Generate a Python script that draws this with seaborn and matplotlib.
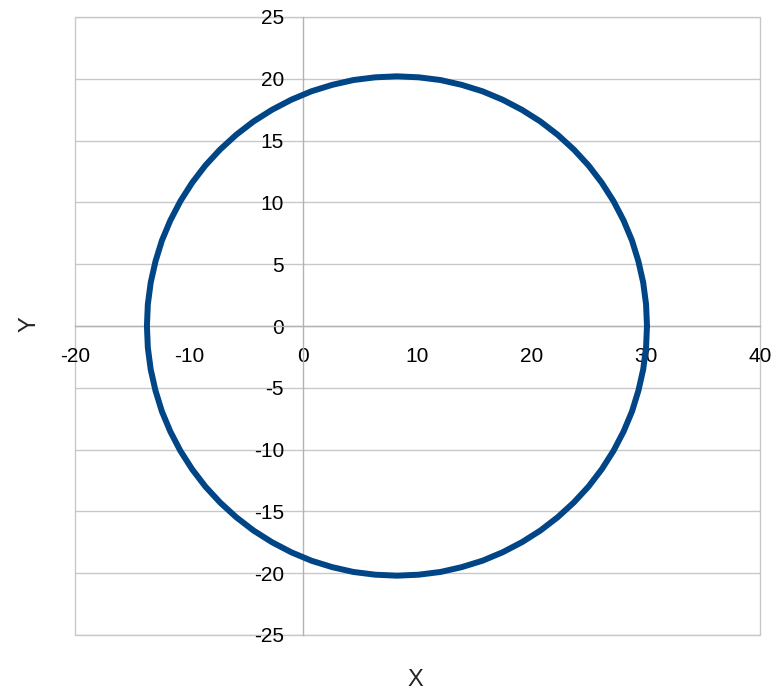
import matplotlib
matplotlib.use("Agg")
import matplotlib.pyplot as plt
from matplotlib.patches import Rectangle
import seaborn as sns
import pandas as pd

# Points (upper half, then lower half), closing the loop
x_vals = [30.1, 30.02, 29.77, 29.35, 28.79, 28.05, 27.17, 26.14, 24.98, 23.69,
          22.28, 20.76, 19.15, 17.45, 15.69, 13.87, 12.01, 10.11, 8.2,
          6.29, 4.39, 2.53, 0.71, -1.05, -2.75, -4.36, -5.88, -7.29, -8.58,
          -9.74, -10.77, -11.65, -12.39, -12.95, -13.37, -13.62, -13.7,
          -13.62, -13.37, -12.95, -12.39, -11.65, -10.77, -9.74, -8.58, -7.29,
          -5.88, -4.36, -2.75, -1.05, 0.71, 2.53, 4.39, 6.29, 8.2,
          10.11, 12.01, 13.87, 15.69, 17.45, 19.15, 20.76, 22.28, 23.69, 24.98,
          26.14, 27.17, 28.05, 28.79, 29.35, 29.77, 30.02, 30.1]
y_vals = [0.0, 1.76, 3.51, 5.23, 6.91, 8.54, 10.1, 11.59, 12.99, 14.28,
          15.47, 16.55, 17.49, 18.31, 18.99, 19.51, 19.9, 20.12, 20.2,
          20.12, 19.9, 19.51, 18.99, 18.31, 17.49, 16.55, 15.47, 14.28, 12.99,
          11.59, 10.1, 8.54, 6.91, 5.23, 3.51, 1.76, 0.0,
          -1.76, -3.51, -5.23, -6.91, -8.54, -10.1, -11.59, -12.99, -14.28,
          -15.47, -16.55, -17.49, -18.31, -18.99, -19.51, -19.9, -20.12, -20.2,
          -20.12, -19.9, -19.51, -18.99, -18.31, -17.49, -16.55, -15.47, -14.28, -12.99,
          -11.59, -10.1, -8.54, -6.91, -5.23, -3.51, -1.76, 0.0]
x_ticks = [-20, -10, 0, 10, 20, 30, 40]
y_ticks = [-25, -20, -15, -10, -5, 0, 5, 10, 15, 20, 25]

df = pd.DataFrame({"X": x_vals, "Y": y_vals})

sns.set_theme(style="white")
plt.rcParams['font.family'] = ['Liberation Sans', 'DejaVu Sans']
plt.rcParams['axes.unicode_minus'] = False

fig = plt.figure(figsize=(7.73, 6.91), dpi=100)
ax = fig.add_axes([75/773, 56/691, 685/773, 618/691])

grid_c = "#c8c8c8"
axis_c = "#b3b3b3"

ax.set_xlim(-20, 40)
ax.set_ylim(-25, 25)
ax.set_xticks(x_ticks)
ax.set_yticks(y_ticks)
ax.yaxis.grid(True, color=grid_c, linewidth=1.0)
ax.xaxis.grid(False)
ax.set_axisbelow(True)

# plot-area frame
ax.add_patch(Rectangle((0, 0), 1, 1, transform=ax.transAxes, fill=False,
                       edgecolor=grid_c, linewidth=1.0, zorder=0.5, clip_on=False))

sns.lineplot(data=df, x="X", y="Y", sort=False, estimator=None, ax=ax,
             color="#004586", linewidth=4.3, zorder=3)

for s in ["top", "right"]:
    ax.spines[s].set_visible(False)
ax.spines["left"].set_position("zero")
ax.spines["bottom"].set_position("zero")
for s in ["left", "bottom"]:
    ax.spines[s].set_color(axis_c)
    ax.spines[s].set_linewidth(1.0)
    ax.spines[s].set_zorder(1)

ax.tick_params(axis="both", which="major", direction="out", length=7,
               width=1.0, color=axis_c, labelsize=15, labelcolor="black")
ax.tick_params(axis="x", pad=8)
ax.tick_params(axis="y", pad=7)

ax.set_xlabel("")
ax.set_ylabel("")
fig.text(415/773, 1 - 680/691, "X", fontsize=17, ha="center", va="center")
fig.text(30/773, 1 - 324/691, "Y", fontsize=17, ha="center", va="center", rotation=90)

fig.savefig("out.png", dpi=100)
